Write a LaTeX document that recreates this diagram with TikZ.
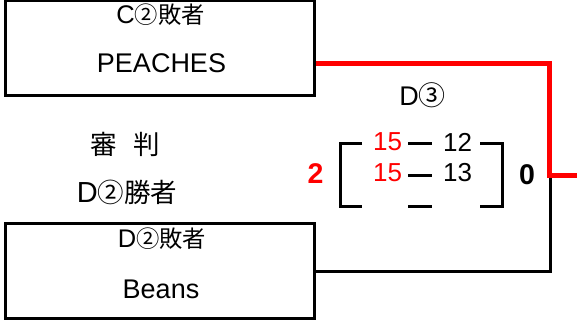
\documentclass[tikz,border=0pt]{standalone}
\usepackage{fontspec}
\setmainfont{Liberation Sans}
\newfontfamily\jp{Noto Sans CJK JP}
\newcommand{\lat}[2]{{\fontsize{#1}{#1}\selectfont #2}}
\begin{document}
\begin{tikzpicture}[x=1pt,y=-1pt,
  box/.style={draw,line width=3pt,inner sep=0pt,minimum width=309pt,minimum height=95pt},
  big/.style={inner sep=0pt,font=\fontsize{27}{27}\selectfont},
  small/.style={inner sep=0pt,font=\fontsize{23.3}{23.3}\selectfont},
  refst/.style={inner sep=0pt,font=\fontsize{26.5}{26.5}\selectfont},
  score/.style={inner sep=0pt,font=\fontsize{26}{26}\selectfont},
  win/.style={score,text=red},
  boldscore/.style={inner sep=0pt,font=\fontsize{28.5}{28.5}\selectfont\bfseries},
  redline/.style={draw=red,line width=5pt},
  blackline/.style={draw=black,line width=2.7pt},
  brk/.style={draw=black,line width=3pt}]
\useasboundingbox (0,0) rectangle (577,323);
% boxes
\node[box] (top) at (160,48) {};
\node[box] (bot) at (160,271) {};
\node[small] (toplab) at (160.5,14.5) {\lat{25.5}{C}{\jp ②敗者}};
\node[big] (topname) at (161.5,63) {PEACHES};
\node[small] (botlab) at (162,239) {\lat{25.5}{D}{\jp ②敗者}};
\node[big] (botname) at (161,289) {Beans};
% referee
\node[refst] (ref) at (125,144.5) {\jp 審\hspace{16.5pt}判};
\node[refst] (refw) at (127,192) {\lat{29}{D}{\jp ②勝者}};
% match
\node[small] (match) at (422.5,95) {\lat{27}{D}{\jp\fontsize{27}{27}\selectfont ③}};
\node[boldscore,text=red] (ls) at (315.5,174) {2};
\node[boldscore] (rs) at (527,175) {0};
\node[win] (a1) at (387.5,142) {15};
\node[score] (b1) at (457.5,142) {12};
\node[win] (a2) at (387.5,173) {15};
\node[score] (b2) at (457.5,173) {13};
% brackets
\draw[brk] (362,143.5) -- (340,143.5) -- (340,206.5) -- (362,206.5);
\draw[brk] (480,143.5) -- (502,143.5) -- (502,206.5) -- (480,206.5);
\draw[brk] (408,143.5) -- (432,143.5);
\draw[brk] (408,175) -- (432,175);
\draw[brk] (408,206.5) -- (432,206.5);
% connectors
\coordinate (rj) at (549.5,175.5);
\coordinate (out) at (577,175.5);
\coordinate (bj) at (550.5,178);
\draw[redline] ([yshift=-16pt]top.east) -| (rj) -- (out);
\draw[blackline] ([yshift=-0.5pt]bot.east) -| (bj);
\end{tikzpicture}
\end{document}
